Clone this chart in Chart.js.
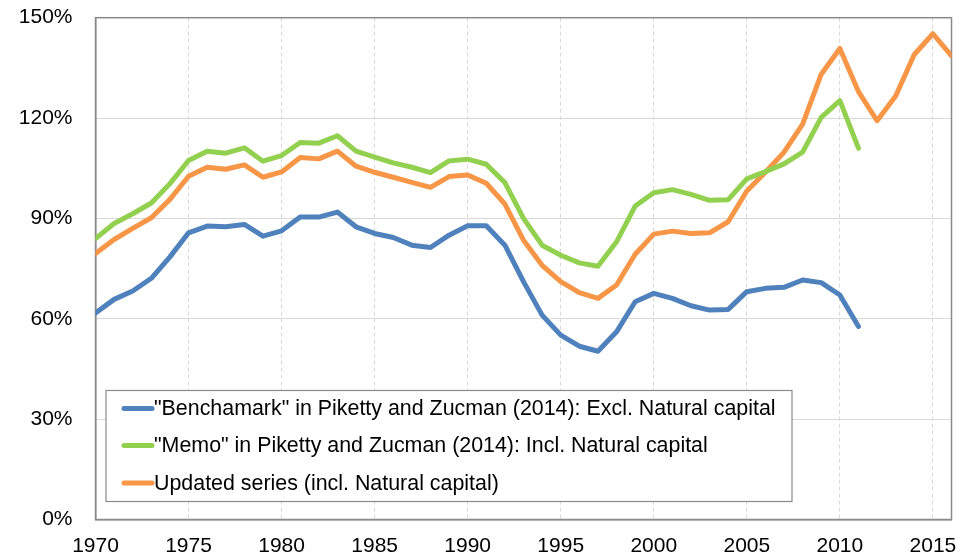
<!DOCTYPE html>
<html>
<head>
<meta charset="utf-8">
<script src="https://cdn.jsdelivr.net/npm/chart.js@4"></script>
<style>
html,body{margin:0;padding:0;background:#fff;}
#wrap{width:979px;height:560px;position:relative;}
</style>
</head>
<body>
<div id="wrap"><canvas id="c" width="979" height="560"></canvas></div>
<script>
const years = [];
for (let y = 1970; y <= 2016; y++) years.push(y);

const seriesNames = [
  '"Benchamark" in Piketty and Zucman (2014): Excl. Natural capital',
  '"Memo" in Piketty and Zucman (2014): Incl. Natural capital',
  'Updated series (incl. Natural capital)'
];

// 1970-2011
const benchmark = [61.7,65.8,68.3,72.1,78.5,85.7,87.7,87.5,88.2,84.7,
  86.3,90.4,90.4,91.9,87.5,85.5,84.3,82.0,81.3,85.0,
  87.8,87.8,82.0,71.1,61.1,55.1,51.8,50.3,56.1,65.1,
  67.6,66.1,63.9,62.6,62.8,68.1,69.1,69.4,71.6,70.8,
  67.1,57.7];
// 1970-2011
const memo = [84.0,88.5,91.4,94.6,100.4,107.3,110.1,109.5,111.1,107.1,
  108.8,112.7,112.5,114.7,110.1,108.3,106.6,105.3,103.7,107.2,
  107.7,106.2,100.7,90.0,82.0,79.0,76.7,75.7,83.0,93.7,
  97.7,98.6,97.2,95.4,95.6,101.8,104.0,106.3,109.8,120.2,
  125.2,111.0];
// 1970-2016
const updated = [79.5,83.7,87.0,90.2,95.7,102.6,105.3,104.7,106.0,102.3,
  103.9,108.2,107.8,110.1,105.6,103.8,102.3,100.8,99.3,102.5,
  103.0,100.5,94.3,83.5,76.0,71.1,67.8,66.1,70.1,79.3,
  85.3,86.2,85.5,85.7,89.0,98.2,103.8,109.8,118.2,133.1,
  140.8,127.9,119.2,126.6,139.0,145.2,138.6];

const yTicks = [0,30,60,90,120,150];
const colors = ['#4F81BD','#92D050','#F79646'];

function toPoints(arr){ return arr.map((v,i)=>({x:years[i], y:v})); }

const FONT = "'Liberation Sans', Arial, sans-serif";

const frame = {
  id:'frame',
  beforeDatasetsDraw(chart){
    const {ctx, chartArea:a} = chart;
    ctx.save();
    ctx.strokeStyle = '#8a8a8a';
    ctx.lineWidth = 1.5;
    ctx.strokeRect(a.left, a.top, a.right-a.left, a.bottom-a.top);
    ctx.restore();
  }
};

const boxLegend = {
  id:'boxLegend',
  afterDraw(chart){
    const {ctx, chartArea:a} = chart;
    const x0 = a.left + 10.5, y0 = 390.5, w = 686, h = 111;
    ctx.save();
    ctx.fillStyle = '#fff';
    ctx.fillRect(x0, y0, w, h);
    ctx.strokeStyle = '#8a8a8a';
    ctx.lineWidth = 1.2;
    ctx.strokeRect(x0, y0, w, h);
    ctx.font = '21.4px ' + FONT;
    ctx.textBaseline = 'middle';
    const rows = [408.5, 445.5, 483];
    chart.data.datasets.forEach((ds,i)=>{
      const yy = rows[i];
      ctx.strokeStyle = ds.borderColor;
      ctx.lineWidth = 5;
      ctx.lineCap = 'round';
      ctx.beginPath();
      ctx.moveTo(x0+18, yy);
      ctx.lineTo(x0+46, yy);
      ctx.stroke();
      ctx.fillStyle = '#000';
      ctx.fillText(ds.label, x0+48, yy+1);
    });
    ctx.restore();
  }
};

new Chart(document.getElementById('c'), {
  type:'line',
  data:{
    datasets:[
      {label:seriesNames[0], data:toPoints(benchmark), borderColor:colors[0]},
      {label:seriesNames[1], data:toPoints(memo), borderColor:colors[1]},
      {label:seriesNames[2], data:toPoints(updated), borderColor:colors[2]}
    ].map(d=>Object.assign(d,{borderWidth:5, pointRadius:0, tension:0, fill:false,
      borderJoinStyle:'round', borderCapStyle:'round', clip:0}))
  },
  options:{
    responsive:false,
    animation:false,
    layout:{autoPadding:false, padding:{left:0, top:17.7, right:27.5, bottom:0}},
    plugins:{legend:{display:false}, tooltip:{enabled:false}},
    scales:{
      x:{
        type:'linear', min:1970, max:2016,
        afterFit(s){ s.height = 40.5; s.paddingLeft = 0; s.paddingRight = 0; },
        ticks:{stepSize:5, includeBounds:false, autoSkip:false, maxRotation:0,
          padding:14, color:'#000', font:{family:FONT, size:21},
          callback:v=>String(v)},
        grid:{color:'#d9d9d9', lineWidth:1, drawTicks:false, tickLength:0},
        border:{display:true, color:'#8a8a8a', width:1.5, dash:[4,3]}
      },
      y:{
        min:0, max:150,
        afterFit(s){ s.width = 95.5; s.paddingTop = 0; s.paddingBottom = 0; },
        afterBuildTicks(s){ s.ticks = yTicks.map(v=>({value:v})); },
        ticks:{padding:23, color:'#000', font:{family:FONT, size:21},
          callback:v=>v+'%'},
        grid:{color:'#d9d9d9', lineWidth:1, drawTicks:false, tickLength:0},
        border:{display:true, color:'#8a8a8a', width:1.5}
      }
    }
  },
  plugins:[frame, boxLegend]
});
</script>
</body>
</html>
